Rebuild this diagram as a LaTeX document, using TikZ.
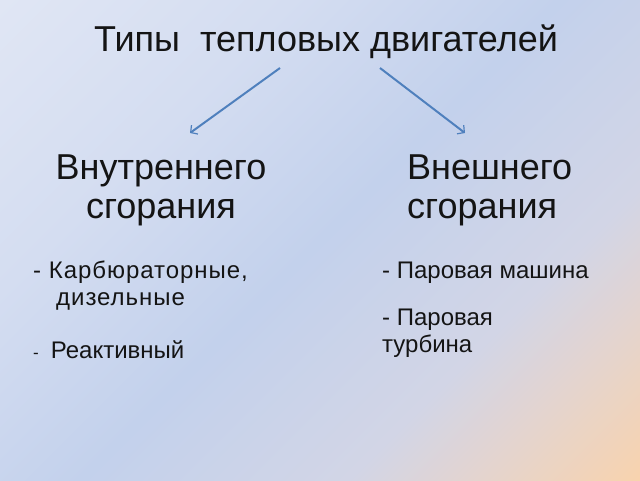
\documentclass[tikz,border=0pt]{standalone}
\usepackage{fontspec}
\setmainfont{Liberation Sans}
\usetikzlibrary{arrows.meta}
\definecolor{bgA}{HTML}{E0E6F4}
\definecolor{bgB}{HTML}{D4DDF1}
\definecolor{bgC}{HTML}{C3D1EC}
\definecolor{bgD}{HTML}{D2D5E6}
\definecolor{bgE}{HTML}{E3D4D0}
\definecolor{bgF}{HTML}{F8D3AE}
\definecolor{txtcol}{HTML}{141414}
\definecolor{arrcol}{HTML}{4F80BD}
\pgfdeclarehorizontalshading{bgshade}{100bp}{color(0bp)=(bgA); color(14.6bp)=(bgA); color(33bp)=(bgB); color(50bp)=(bgC); color(67bp)=(bgD); color(74.7bp)=(bgE); color(85.4bp)=(bgF); color(100bp)=(bgF)}
\begin{document}
\begin{tikzpicture}[x=1pt,y=1pt,
  txt/.style={inner sep=0pt, text=txtcol},
  head/.style={txt, font=\fontsize{36}{39}\selectfont},
  item/.style={txt, font=\fontsize{24}{26.5}\selectfont, align=left, anchor=base west},
  arr/.style={draw=arrcol, line width=2pt, -{Straight Barb[length=5pt,width=11pt,line width=1.2pt]}}]
\useasboundingbox (0,0) rectangle (640,480);
\shade[shading=bgshade, shading angle=-45] (0,0) rectangle (640,480);
\node[head, anchor=base] (title) at (326,428) {Типы\ \ тепловых двигателей};
\node[head, anchor=base, align=center] (inner) at (161,261) {Внутреннего\\сгорания};
\node[head, anchor=base west, align=left] (outer) at (407,261) {Внешнего\\сгорания};
\node[item, font=\fontsize{24}{27}\selectfont\addfontfeature{LetterSpace=4}] (carb) at (33,175) {- Карбюраторные,\\\hspace*{23pt}дизельные};
\node[item] (jet) at (33,122) {{\fontsize{17}{17}\selectfont -}\hspace{12pt}Реактивный};
\node[item] (steam) at (382,202) {- Паровая машина};
\node[item] (turb) at (382,128) {- Паровая\\турбина};
\coordinate (l1) at (280,412);
\coordinate (l2) at (190,347);
\coordinate (r1) at (380,412);
\coordinate (r2) at (465,347);
\draw[arr] (l1) -- (l2);
\draw[arr] (r1) -- (r2);
\end{tikzpicture}
\end{document}
